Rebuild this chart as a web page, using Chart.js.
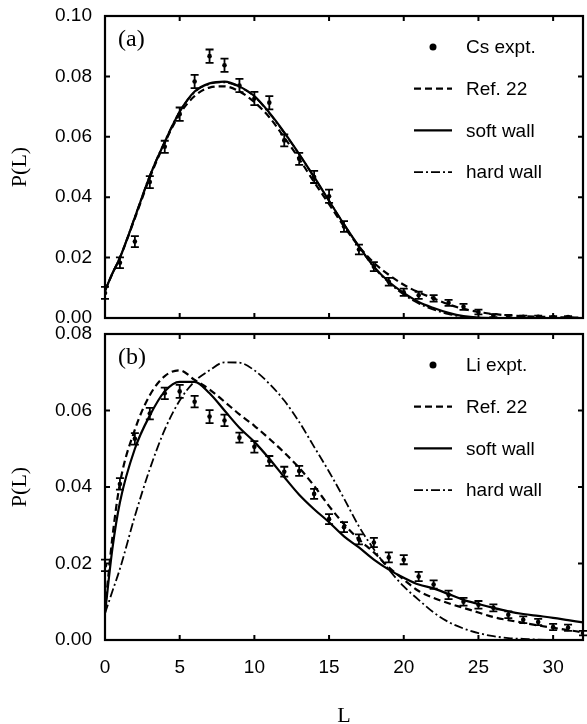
<!DOCTYPE html>
<html>
<head>
<meta charset="utf-8">
<script src="https://cdn.jsdelivr.net/npm/chart.js@4.4.0/dist/chart.umd.min.js"></script>
<style>
  html, body { margin: 0; padding: 0; background: #fff; overflow: hidden; }
  #wrap { position: relative; width: 587px; height: 724px; overflow: hidden; }
  canvas { position: absolute; left: 0; }
  #cA { top: 0; }
  #cB { top: 318px; }
</style>
</head>
<body>
<div id="wrap">
  <canvas id="cA" width="587" height="334"></canvas>
  <canvas id="cB" width="587" height="410"></canvas>
</div>
<script>
// ---- data ----

// (a) Cs
var L_CS = [0,1,2,3,4,5,6,7,8,9,10,11,12,13,14,15,16,17,18,19,20,21,22,23,24,25,26,27,28,29,30,31];
var CS_EXPT = [0.0083,0.0183,0.0253,0.045,0.0567,0.0675,0.0783,0.0867,0.0837,0.077,0.0727,0.0713,0.0588,0.0527,0.0467,0.0403,0.0303,0.0227,0.017,0.012,0.0085,0.0075,0.0065,0.005,0.0037,0.002,0.0008,0.0005,0.0004,0.0004,0.0003,0.0003];
var CS_ERR = [0.002,0.0018,0.0018,0.002,0.002,0.0022,0.0022,0.0022,0.0022,0.0022,0.0022,0.0022,0.002,0.002,0.002,0.0022,0.0018,0.0016,0.0015,0.0013,0.0012,0.0012,0.0011,0.001,0.001,0.0008,0.0005,0.0005,0.0004,0.0004,0.0003,0.0003];

// (b) Li
var L_LI = [0,1,2,3,4,5,6,7,8,9,10,11,12,13,14,15,16,17,18,19,20,21,22,23,24,25,26,27,28,29,30,31,32];
var LI_EXPT = [0.0195,0.0408,0.0526,0.0592,0.0645,0.065,0.0623,0.0584,0.0574,0.0529,0.0505,0.0468,0.044,0.0442,0.0382,0.0316,0.0295,0.0263,0.0255,0.0216,0.021,0.0166,0.0145,0.0118,0.010,0.0092,0.0084,0.0066,0.0053,0.0047,0.0034,0.0032,0.0018];
var LI_ERR = [0.0015,0.0015,0.0015,0.0015,0.0015,0.0017,0.0015,0.0017,0.0015,0.0013,0.0015,0.0013,0.0013,0.0013,0.0013,0.0013,0.0013,0.0013,0.0012,0.0013,0.0012,0.0012,0.0011,0.0011,0.001,0.001,0.0009,0.0009,0.0009,0.0008,0.0008,0.0008,0.0006];

// model curves, sampled at these L
var L_CURVE = [0,0.5,1,2,3,4,5,6,7,8,9,10,11,12,13,14,15,16,17,18,19,20,21,22,23,24,25,26,27,28,29,30,31,32];

var A_REF22 = [0.009,0.0148,0.020,0.033,0.0465,0.058,0.0675,0.0735,0.0763,0.0767,0.075,0.0715,0.0665,0.0598,0.0527,0.045,0.0377,0.0303,0.0237,0.0183,0.0143,0.011,0.0085,0.0065,0.0045,0.003,0.002,0.0013,0.0009,0.0006,0.0004,0.0003,0.0002,0.0001];
var A_SOFT = [0.009,0.0148,0.020,0.0333,0.047,0.0583,0.0683,0.075,0.0777,0.0783,0.0767,0.0735,0.068,0.0615,0.0543,0.0467,0.0388,0.031,0.0237,0.017,0.012,0.0083,0.0053,0.0033,0.0017,0.0006,0.0001,0,0,0,0,0,0,0];
var A_HARD = [0.009,0.0148,0.020,0.0335,0.0472,0.0585,0.0683,0.0748,0.0775,0.078,0.0765,0.0733,0.0678,0.0613,0.0542,0.0466,0.0388,0.031,0.0236,0.0168,0.0117,0.0078,0.0048,0.0028,0.0013,0.0004,0,0,0,0,0,0,0,0];

var B_REF22 = [0.008,0.027,0.041,0.055,0.064,0.069,0.0705,0.068,0.0655,0.0623,0.059,0.056,0.0526,0.049,0.045,0.0403,0.035,0.0303,0.0263,0.0229,0.019,0.0158,0.0128,0.011,0.0096,0.0084,0.0072,0.006,0.0052,0.0045,0.0038,0.0032,0.0026,0.002];
var B_SOFT = [0.007,0.024,0.036,0.050,0.0587,0.065,0.0675,0.0675,0.0645,0.060,0.0555,0.0518,0.0474,0.0426,0.038,0.0342,0.0308,0.0271,0.0242,0.021,0.0184,0.0163,0.0145,0.0135,0.012,0.0105,0.0094,0.0084,0.0075,0.0068,0.0063,0.0058,0.0052,0.0046];
var B_HARD = [0.007,0.0128,0.0186,0.0324,0.0447,0.055,0.0626,0.0676,0.0705,0.0726,0.0725,0.0705,0.067,0.0626,0.057,0.0505,0.044,0.037,0.0297,0.0237,0.0184,0.014,0.0105,0.0072,0.0047,0.003,0.0018,0.001,0.0005,0.0003,0.0001,0,0,0];

var X_MAX = 32;
var Y_MAX_A = 0.10;
var Y_MAX_B = 0.08;

// ---- drawing ----

var SANS = '"Liberation Sans", Arial, sans-serif';
var SERIF = '"Liberation Serif", "Times New Roman", serif';

function pts(xs, ys) {
  return xs.map(function (x, i) { return { x: x, y: ys[i] }; });
}

// frame, inward ticks, error bars, legend and panel tag
var panelPlugin = {
  id: 'panel',
  afterDraw: function (chart, args, o) {
    var ctx = chart.ctx, a = chart.chartArea;
    var xs = chart.scales.x, ys = chart.scales.y;
    ctx.save();
    ctx.strokeStyle = '#000';
    ctx.fillStyle = '#000';

    // error bars
    chart.data.datasets.forEach(function (ds) {
      if (!ds.err) return;
      ctx.lineWidth = 1.8;
      ctx.beginPath();
      ds.data.forEach(function (p, i) {
        var px = xs.getPixelForValue(p.x);
        var lo = ys.getPixelForValue(p.y - ds.err[i]);
        var hi = ys.getPixelForValue(p.y + ds.err[i]);
        ctx.moveTo(px, lo); ctx.lineTo(px, hi);
        ctx.moveTo(px - 4, lo); ctx.lineTo(px + 4, lo);
        ctx.moveTo(px - 4, hi); ctx.lineTo(px + 4, hi);
      });
      ctx.stroke();
    });

    // box
    ctx.lineWidth = 2.2;
    ctx.strokeRect(a.left, a.top, a.right - a.left, a.bottom - a.top);

    // inward ticks on all sides
    ctx.lineWidth = 2;
    ctx.beginPath();
    xs.ticks.forEach(function (t) {
      var px = xs.getPixelForValue(t.value);
      if (px <= a.left + 1 || px >= a.right - 1) return;
      ctx.moveTo(px, a.top); ctx.lineTo(px, a.top + 5);
      ctx.moveTo(px, a.bottom); ctx.lineTo(px, a.bottom - 5);
    });
    ys.ticks.forEach(function (t) {
      var py = ys.getPixelForValue(t.value);
      if (py >= a.bottom - 1 || py <= a.top + 1) return;
      ctx.moveTo(a.left, py); ctx.lineTo(a.left + 5, py);
      ctx.moveTo(a.right, py); ctx.lineTo(a.right - 5, py);
    });
    ctx.stroke();

    // (a) / (b)
    ctx.font = '24px ' + SERIF;
    ctx.textBaseline = 'middle';
    ctx.textAlign = 'left';
    ctx.fillText(o.tag, a.left + 13, a.top + 24);

    // legend
    ctx.font = '19px ' + SANS;
    chart.data.datasets.forEach(function (ds, i) {
      var yy = a.top + 31 + 41.7 * i;
      var x0 = a.right - 169, x1 = a.right - 131;
      if (ds.showLine === false) {
        ctx.beginPath();
        ctx.arc((x0 + x1) / 2, yy, 3.5, 0, Math.PI * 2);
        ctx.fill();
      } else {
        ctx.lineWidth = ds.borderWidth;
        ctx.setLineDash(ds.borderDash || []);
        ctx.beginPath();
        ctx.moveTo(x0, yy); ctx.lineTo(x1, yy);
        ctx.stroke();
        ctx.setLineDash([]);
      }
      ctx.fillText(ds.label, a.right - 117, yy + 1);
    });
    ctx.restore();
  }
};

function curve(label, ys, width, dash) {
  return {
    label: label,
    data: pts(L_CURVE, ys),
    borderColor: '#000',
    borderWidth: width,
    borderDash: dash,
    pointRadius: 0,
    fill: false,
    cubicInterpolationMode: 'monotone'
  };
}

function expt(label, xs, ys, err) {
  return {
    label: label,
    data: pts(xs, ys),
    err: err,
    showLine: false,
    pointRadius: 2.3,
    pointBackgroundColor: '#000',
    pointBorderWidth: 0,
    borderColor: '#000'
  };
}

function makeChart(id, tag, datasets, yMax, pad, showX) {
  return new Chart(document.getElementById(id), {
    type: 'line',
    data: { datasets: datasets },
    options: {
      responsive: false,
      animation: false,
      devicePixelRatio: 1,
      layout: { padding: pad },
      plugins: {
        legend: { display: false },
        tooltip: { enabled: false },
        panel: { tag: tag }
      },
      scales: {
        x: {
          type: 'linear',
          min: 0,
          max: X_MAX,
          grid: { display: false, drawTicks: false },
          border: { display: false },
          ticks: {
            display: showX,
            stepSize: 5,
            includeBounds: false,
            padding: 16,
            color: '#000',
            font: { family: SANS, size: 19 }
          },
          title: {
            display: showX,
            text: 'L',
            color: '#000',
            font: { family: SERIF, size: 22, lineHeight: 1 },
            padding: { top: 0, bottom: 1 }
          },
          afterFit: function (s) { s.height = showX ? 88 : 0; }
        },
        y: {
          min: 0,
          max: yMax,
          grid: { display: false, drawTicks: false },
          border: { display: false },
          ticks: {
            stepSize: 0.02,
            padding: 13,
            color: '#000',
            // small lineHeight keeps the end labels from pushing the plot area in
            font: { family: SANS, size: 19, lineHeight: 0.3 },
            callback: function (v) { return v.toFixed(2); }
          },
          title: {
            display: true,
            text: 'P(L)',
            color: '#000',
            font: { family: SERIF, size: 22 },
            padding: { top: 7, bottom: 0 }
          },
          afterFit: function (s) { s.width = 105; }
        }
      }
    },
    plugins: [panelPlugin]
  });
}

makeChart('cA', '(a)', [
  expt('Cs expt.', L_CS, CS_EXPT, CS_ERR),
  curve('Ref. 22', A_REF22, 2.2, [7, 4]),
  curve('soft wall', A_SOFT, 2.2, []),
  curve('hard wall', A_HARD, 1.8, [9, 3, 2, 3])
], Y_MAX_A, { top: 16, bottom: 16, left: 0, right: 1 }, false);

makeChart('cB', '(b)', [
  expt('Li expt.', L_LI, LI_EXPT, LI_ERR),
  curve('Ref. 22', B_REF22, 2.2, [7, 4]),
  curve('soft wall', B_SOFT, 2.2, []),
  curve('hard wall', B_HARD, 1.8, [9, 3, 2, 3])
], Y_MAX_B, { top: 16, bottom: 0, left: 0, right: 1 }, true);
</script>
</body>
</html>
